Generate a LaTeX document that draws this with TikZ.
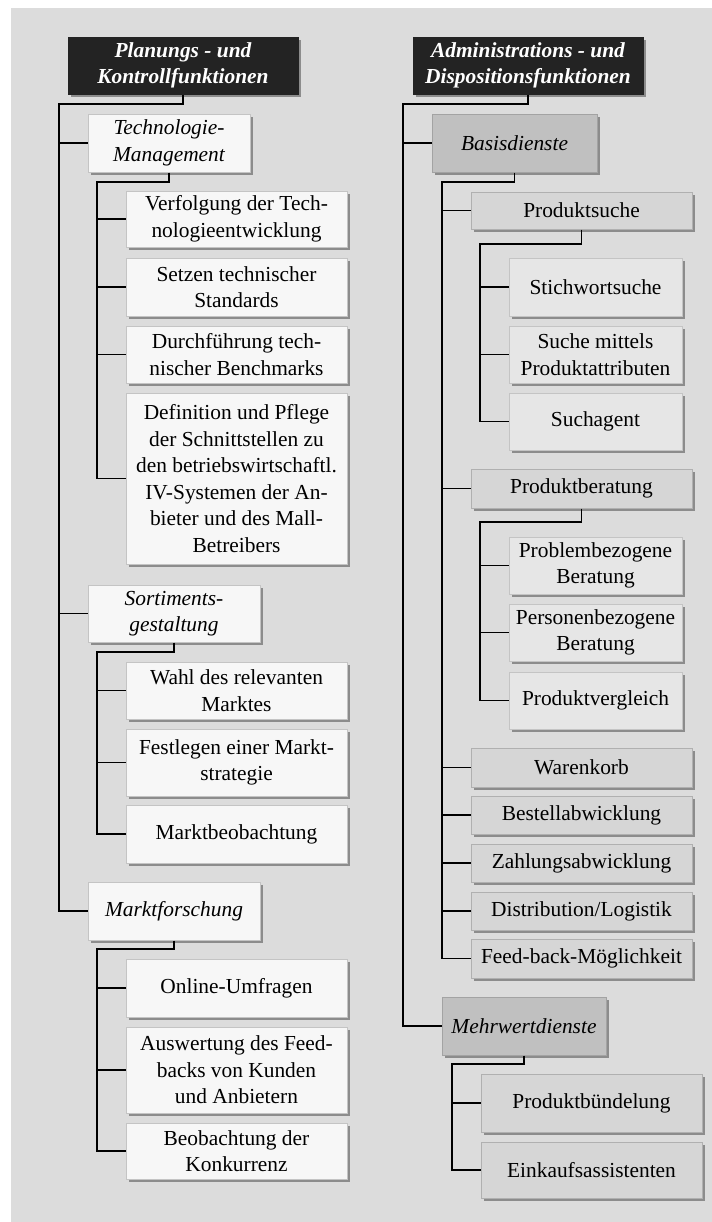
\documentclass[tikz,border=0pt]{standalone}
\usepackage{fontspec}
\setmainfont{Liberation Serif}
\usetikzlibrary{shadows}
\definecolor{bgc}{HTML}{DCDCDC}
\definecolor{headc}{HTML}{232323}
\definecolor{shad}{HTML}{8C8C8C}
\definecolor{lightc}{HTML}{F7F7F7}
\definecolor{darkc}{HTML}{C0C0C0}
\definecolor{midc}{HTML}{D6D6D6}
\definecolor{palec}{HTML}{E6E6E6}
\definecolor{brd}{HTML}{C4C4C4}
\newcommand\bx[7]{\node[#2, minimum width={(#5-#3)*0.5pt}, minimum height={(#6-#4)*0.5pt}] (#1) at ({(#3+#5)/2},{(#4+#6)/2}) {#7};}
\begin{document}
\begin{tikzpicture}[x=0.5pt,y=-0.5pt,
  box/.style={draw=brd, line width=0.5pt, inner sep=0pt, align=center,
    font=\fontsize{10.7}{13.3}\selectfont,
    general shadow={shadow xshift=1.5pt, shadow yshift=-1.5pt, fill=shad}},
  headbox/.style={box, draw=headc, fill=headc, text=white, font=\fontsize{10.7}{13.3}\selectfont\bfseries\itshape},
  lbox/.style={box, fill=lightc},
  libox/.style={lbox, font=\fontsize{10.7}{13.3}\selectfont\itshape},
  dibox/.style={box, fill=darkc, draw=darkc!85!black, font=\fontsize{10.7}{13.3}\selectfont\itshape},
  mbox/.style={box, fill=midc, draw=brd!90!black},
  pbox/.style={box, fill=palec},
  conn/.style={line width=0.6pt, draw=black},
  br/.style={line width=0.9pt, draw=black}]
\useasboundingbox (0,0) rectangle (712,1222);
\fill[bgc] (11,8) rectangle (712,1222);
% left column
\bx{h1}{headbox}{68}{37}{298}{94}{Planungs - und\\Kontrollfunktionen}
\bx{tm}{libox}{88}{114}{250}{172}{Technologie-\\Management}
\bx{v1}{lbox}{126}{191}{347}{247}{Verfolgung der Tech-\\nologieentwicklung}
\bx{v2}{lbox}{126}{258}{347}{316}{Setzen technischer\\Standards}
\bx{v3}{lbox}{126}{326}{347}{383}{Durchführung tech-\\nischer Benchmarks}
\bx{v4}{lbox}{126}{393}{347}{564}{Definition und Pflege\\der Schnittstellen zu\\den betriebswirtschaftl.\\IV-Systemen der An-\\bieter und des Mall-\\Betreibers}
\bx{sg}{libox}{88}{585}{260}{642}{Sortiments-\\gestaltung}
\bx{w1}{lbox}{126}{662}{347}{719}{Wahl des relevanten\\Marktes}
\bx{w2}{lbox}{126}{729}{347}{796}{Festlegen einer Markt-\\strategie}
\bx{w3}{lbox}{126}{805}{347}{863}{Marktbeobachtung}
\bx{mf}{libox}{88}{882}{260}{940}{Marktforschung}
\bx{m1}{lbox}{126}{959}{347}{1017}{Online-Umfragen}
\bx{m2}{lbox}{126}{1027}{347}{1113}{Auswertung des Feed-\\backs von Kunden\\und Anbietern}
\bx{m3}{lbox}{126}{1123}{347}{1179}{Beobachtung der\\Konkurrenz}
% right column
\bx{h2}{headbox}{413}{37}{643}{94}{Administrations - und\\Dispositionsfunktionen}
\bx{bd}{dibox}{432}{114}{597}{172}{Basisdienste}
\bx{ps}{mbox}{471}{192}{692}{229}{Produktsuche}
\bx{s1}{pbox}{509}{258}{682}{316}{Stichwortsuche}
\bx{s2}{pbox}{509}{326}{682}{383}{Suche mittels\\Produktattributen}
\bx{s3}{pbox}{509}{393}{682}{450}{Suchagent}
\bx{pb}{mbox}{471}{469}{692}{508}{Produktberatung}
\bx{b1}{pbox}{509}{537}{682}{594}{Problembezogene\\Beratung}
\bx{b2}{pbox}{509}{604}{682}{661}{Personenbezogene\\Beratung}
\bx{b3}{pbox}{509}{672}{682}{729}{Produktvergleich}
\bx{wk}{mbox}{471}{748}{692}{787}{Warenkorb}
\bx{ba}{mbox}{471}{796}{692}{834}{Bestellabwicklung}
\bx{za}{mbox}{471}{844}{692}{882}{Zahlungsabwicklung}
\bx{dl}{mbox}{471}{892}{692}{930}{Distribution/Logistik}
\bx{fb}{mbox}{471}{939}{692}{978}{Feed-back-Möglichkeit}
\bx{mw}{dibox}{442}{997}{606}{1055}{Mehrwertdienste}
\bx{pu}{mbox}{481}{1074}{702}{1132}{Produktbündelung}
\bx{ea}{mbox}{481}{1142}{702}{1198}{Einkaufsassistenten}
% trunk coordinates
\coordinate (t1) at (59,104);
\coordinate (t2) at (97,182);
\coordinate (t3) at (97,652);
\coordinate (t4) at (97,949);
\coordinate (t5) at (403,104);
\coordinate (t6) at (442,182);
\coordinate (t7) at (480,244);
\coordinate (t8) at (480,522);
\coordinate (t9) at (452,1064);
% connectors
\draw[conn] (h1.south) |- (t1) |- (mf.west);
\draw[br] (t1 |- tm.west) -- (tm.west);
\draw[br] (t1 |- sg.west) -- (sg.west);
\draw[conn] (tm.south) |- (t2) |- (v4.west);
\foreach \n in {v1,v2,v3} \draw[br] (t2 |- \n.west) -- (\n.west);
\draw[conn] (sg.south) |- (t3) |- (w3.west);
\foreach \n in {w1,w2} \draw[br] (t3 |- \n.west) -- (\n.west);
\draw[conn] (mf.south) |- (t4) |- (m3.west);
\foreach \n in {m1,m2} \draw[br] (t4 |- \n.west) -- (\n.west);
\draw[conn] (h2.south) |- (t5) |- (mw.west);
\draw[br] (t5 |- bd.west) -- (bd.west);
\draw[conn] (bd.south) |- (t6) |- (fb.west);
\foreach \n in {ps,pb,wk,ba,za,dl} \draw[br] (t6 |- \n.west) -- (\n.west);
\draw[conn] (ps.south) |- (t7) |- (s3.west);
\foreach \n in {s1,s2} \draw[br] (t7 |- \n.west) -- (\n.west);
\draw[conn] (pb.south) |- (t8) |- (b3.west);
\foreach \n in {b1,b2} \draw[br] (t8 |- \n.west) -- (\n.west);
\draw[conn] (mw.south) |- (t9) |- (ea.west);
\draw[br] (t9 |- pu.west) -- (pu.west);
\end{tikzpicture}
\end{document}
